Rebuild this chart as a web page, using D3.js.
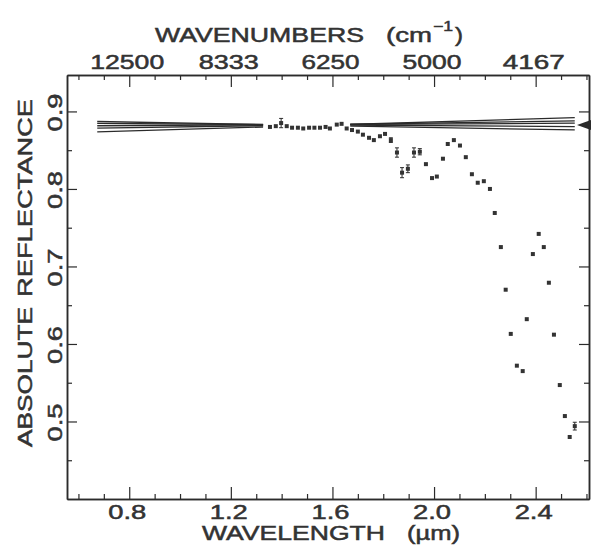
<!DOCTYPE html>
<html>
<head>
<meta charset="utf-8">
<script src="https://cdn.jsdelivr.net/npm/d3@7"></script>
<style>
  body { margin: 0; background: #fff; }
  text { font-family: "Liberation Sans", Arial, sans-serif; fill: #333; stroke: #333; stroke-width: 0.5px; }
</style>
</head>
<body>
<script>
// measured spectrum (wavelength in um, absolute reflectance)
var wavelength = [1.354, 1.377, 1.398, 1.420, 1.441, 1.464, 1.485, 1.508, 1.529, 1.551,
  1.573, 1.590, 1.617, 1.636, 1.656, 1.677, 1.700, 1.720, 1.744, 1.763,
  1.787, 1.807, 1.830, 1.854, 1.874, 1.897, 1.921, 1.944, 1.968, 1.992,
  2.011, 2.035, 2.054, 2.078, 2.102, 2.125, 2.149, 2.172, 2.196, 2.220,
  2.239, 2.263, 2.282, 2.302, 2.326, 2.349, 2.365, 2.389, 2.412, 2.432,
  2.452, 2.472, 2.495, 2.515, 2.534, 2.554];
var reflectance = [0.880, 0.881, 0.885, 0.881, 0.879, 0.879, 0.878, 0.879, 0.879, 0.879,
  0.880, 0.878, 0.883, 0.884, 0.878, 0.876, 0.874, 0.870, 0.866, 0.863,
  0.868, 0.871, 0.863, 0.847, 0.821, 0.826, 0.847, 0.848, 0.832, 0.814,
  0.816, 0.839, 0.858, 0.863, 0.856, 0.841, 0.819, 0.808, 0.810, 0.800,
  0.769, 0.725, 0.670, 0.613, 0.572, 0.565, 0.632, 0.716, 0.742, 0.725,
  0.679, 0.612, 0.547, 0.507, 0.480, 0.494];
var errBar = [0, 0, 0.006, 0, 0, 0, 0, 0, 0, 0,
  0, 0, 0, 0, 0, 0, 0, 0, 0, 0,
  0, 0, 0.003, 0.006, 0.0065, 0.005, 0.006, 0.004, 0, 0,
  0, 0, 0, 0, 0, 0, 0, 0, 0, 0,
  0, 0, 0, 0, 0, 0, 0, 0, 0, 0,
  0, 0, 0, 0, 0, 0.005];

// straight reference lines (value at left end, value at right end)
var fanLeft = [0.8735, 0.8785, 0.8815, 0.8845, 0.887];
var fanRight = [0.892, 0.8877, 0.8848, 0.8804, 0.8761];
var fanRange = [0.674, 2.554];
var fanGap = [1.327, 1.67];
var arrowLevel = 0.8826;

var wlMajor = [0.8, 1.2, 1.6, 2.0, 2.4];
var wlLabels = ["0.8", "1.2", "1.6", "2.0", "2.4"];
var wnLabels = ["12500", "8333", "6250", "5000", "4167"];
var wlMinor = [0.6, 0.7, 0.9, 1.0, 1.1, 1.3, 1.4, 1.5, 1.7, 1.8, 1.9, 2.1, 2.2, 2.3, 2.5, 2.6];
var rMajor = [0.5, 0.6, 0.7, 0.8, 0.9];
var rLabels = ["0.5", "0.6", "0.7", "0.8", "0.9"];
var rMinor = [0.45, 0.55, 0.65, 0.75, 0.85];

var w = 591, h = 548;
var margin = {top: 75, bottom: 49, left: 67, right: 2};

var x = d3.scaleLinear().domain([0.555, 2.61]).range([margin.left, w - margin.right]);
var y = d3.scaleLinear().domain([0.4, 0.947]).range([h - margin.bottom, margin.top]);

var svg = d3.select("body").append("svg")
  .attr("width", w)
  .attr("height", h);

var ink = "#2b2b2b";

// axes: minor + major ticks on all four sides, pointing inward
function addAxis(gen, vals, size, tx, ty) {
  var g = svg.append("g")
    .attr("transform", "translate(" + tx + "," + ty + ")")
    .call(gen.tickValues(vals).tickSize(size).tickSizeOuter(0).tickFormat(""));
  g.select(".domain").attr("stroke", ink).attr("stroke-width", 1.5);
  g.selectAll(".tick line").attr("stroke", ink).attr("stroke-width", 1.2);
  return g;
}
var bottomY = y.range()[0], topY = y.range()[1];
var leftX = x.range()[0], rightX = x.range()[1];

addAxis(d3.axisBottom(x), wlMinor, -5, 0, bottomY);
addAxis(d3.axisBottom(x), wlMajor, -12, 0, bottomY);
addAxis(d3.axisTop(x), wlMinor, -5, 0, topY);
addAxis(d3.axisTop(x), wlMajor, -12, 0, topY);
addAxis(d3.axisLeft(y), rMinor, -5, leftX, 0);
addAxis(d3.axisLeft(y), rMajor, -10, leftX, 0);
addAxis(d3.axisRight(y), rMinor, -5, rightX, 0);
addAxis(d3.axisRight(y), rMajor, -10, rightX, 0);

// tick labels
svg.selectAll(".wl-label")
  .data(wlMajor)
  .enter().append("text")
  .attr("class", "wl-label")
  .attr("x", function(d) { return x(d) - 2; })
  .attr("y", bottomY + 20)
  .attr("text-anchor", "middle")
  .attr("font-size", 19.5)
  .attr("textLength", 38)
  .attr("lengthAdjust", "spacingAndGlyphs")
  .text(function(d, i) { return wlLabels[i]; });

var wnWidth = [74, 60, 58, 59, 62];
svg.selectAll(".wn-label")
  .data(wlMajor)
  .enter().append("text")
  .attr("class", "wn-label")
  .attr("x", function(d) { return x(d) - 2; })
  .attr("y", topY - 6)
  .attr("text-anchor", "middle")
  .attr("font-size", 19.5)
  .attr("textLength", function(d, i) { return wnWidth[i]; })
  .attr("lengthAdjust", "spacingAndGlyphs")
  .text(function(d, i) { return wnLabels[i]; });

svg.selectAll(".r-label")
  .data(rMajor)
  .enter().append("text")
  .attr("class", "r-label")
  .attr("transform", function(d) { return "translate(" + (leftX - 5) + "," + (y(d) + 1) + ") rotate(-90)"; })
  .attr("text-anchor", "middle")
  .attr("font-size", 19.5)
  .attr("textLength", 38)
  .attr("lengthAdjust", "spacingAndGlyphs")
  .text(function(d, i) { return rLabels[i]; });

// axis titles
function title(str, tx, ty, len, rot, size) {
  svg.append("text")
    .attr("transform", "translate(" + tx + "," + ty + ")" + (rot ? " rotate(-90)" : ""))
    .attr("font-size", size || 20)
    .attr("textLength", len)
    .attr("lengthAdjust", "spacingAndGlyphs")
    .text(str);
}
title("WAVELENGTH", 202, 540, 183);
title("(\u00b5m)", 407, 540, 53);
title("WAVENUMBERS", 155, 42, 209);
title("(cm", 386, 42, 46);
title("\u22121", 433, 31, 20, false, 14);
title(")", 455, 42, 8);
title("ABSOLUTE", 32, 447, 140, true, 21);
title("REFLECTANCE", 32, 297, 198, true, 21);

// fan of straight lines, interrupted where the measured points are
var clip = svg.append("clipPath").attr("id", "fanclip");
clip.append("rect")
  .attr("x", x(fanRange[0]) - 1).attr("y", topY)
  .attr("width", x(fanGap[0]) - x(fanRange[0]) + 1).attr("height", bottomY - topY);
clip.append("rect")
  .attr("x", x(fanGap[1])).attr("y", topY)
  .attr("width", x(fanRange[1]) - x(fanGap[1]) + 1).attr("height", bottomY - topY);

svg.append("g").attr("clip-path", "url(#fanclip)")
  .selectAll("line")
  .data(fanLeft)
  .enter().append("line")
  .attr("x1", x(fanRange[0]))
  .attr("x2", x(fanRange[1]))
  .attr("y1", function(d) { return y(d); })
  .attr("y2", function(d, i) { return y(fanRight[i]); })
  .attr("stroke", ink)
  .attr("stroke-width", 1.3);

// arrow marker on the right edge
var ay = y(arrowLevel);
svg.append("path")
  .attr("d", "M" + (rightX - 12) + "," + ay + "L" + (rightX + 2) + "," + (ay - 5) + "L" + (rightX + 2) + "," + (ay + 5) + "Z")
  .attr("fill", ink);

// error bars
var pts = wavelength.map(function(d, i) { return {wl: d, r: reflectance[i], e: errBar[i]}; });
var eb = svg.selectAll(".err")
  .data(pts.filter(function(d) { return d.e > 0; }))
  .enter().append("g").attr("class", "err");
eb.append("line")
  .attr("x1", function(d) { return x(d.wl); }).attr("x2", function(d) { return x(d.wl); })
  .attr("y1", function(d) { return y(d.r + d.e); }).attr("y2", function(d) { return y(d.r - d.e); })
  .attr("stroke", ink).attr("stroke-width", 1);
eb.selectAll(".cap")
  .data(function(d) { return [{wl: d.wl, v: d.r + d.e}, {wl: d.wl, v: d.r - d.e}]; })
  .enter().append("line")
  .attr("x1", function(d) { return x(d.wl) - 2; }).attr("x2", function(d) { return x(d.wl) + 2; })
  .attr("y1", function(d) { return y(d.v); }).attr("y2", function(d) { return y(d.v); })
  .attr("stroke", ink).attr("stroke-width", 1);

// data points
svg.selectAll(".pt")
  .data(pts)
  .enter().append("rect")
  .attr("class", "pt")
  .attr("x", function(d) { return x(d.wl) - 2; })
  .attr("y", function(d) { return y(d.r) - 2; })
  .attr("width", 4)
  .attr("height", 4)
  .attr("fill", "#333");
</script>
</body>
</html>
